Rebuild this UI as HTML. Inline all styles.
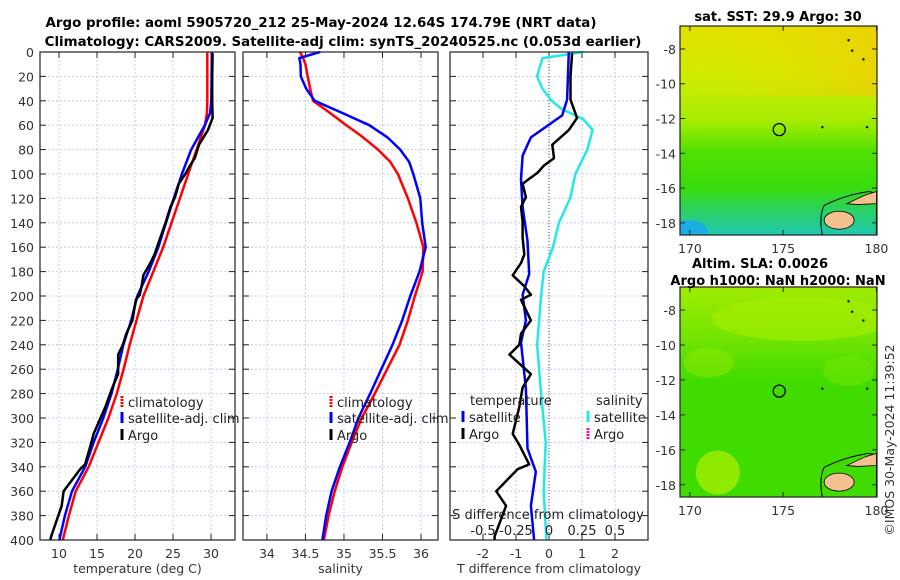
<!DOCTYPE html>
<html><head><meta charset="utf-8">
<style>
html,body{margin:0;padding:0;background:#fff;}
svg{display:block;font-family:"DejaVu Sans","Liberation Sans",sans-serif;}
.tk{font-size:12.5px;fill:#333;}
.tt{font-size:13px;font-weight:bold;fill:#000;}
</style></head>
<body>
<svg id="fig" width="900" height="580" viewBox="0 0 900 580">
<defs>
<linearGradient id="sstg" x1="0" y1="0" x2="0" y2="1">
<stop offset="0" stop-color="#e2e000"/><stop offset="0.22" stop-color="#d0ec00"/>
<stop offset="0.45" stop-color="#a8ec00"/><stop offset="0.6" stop-color="#50e000"/>
<stop offset="0.78" stop-color="#38dc10"/><stop offset="0.9" stop-color="#28d070"/><stop offset="1" stop-color="#20c8b0"/>
</linearGradient>
<linearGradient id="sstg2" x1="0" y1="0" x2="1" y2="0">
<stop offset="0" stop-color="#e6e200" stop-opacity="0"/><stop offset="1" stop-color="#f2cc00" stop-opacity="0.7"/>
</linearGradient>
<linearGradient id="slag" x1="0" y1="0" x2="0" y2="1">
<stop offset="0" stop-color="#a0ec00"/><stop offset="0.25" stop-color="#70e400"/>
<stop offset="0.45" stop-color="#40dc00"/><stop offset="1" stop-color="#40dc00"/>
</linearGradient>
<clipPath id="clipTop"><rect x="680" y="26" width="197" height="209"/></clipPath>
<clipPath id="clipBot"><rect x="680" y="287" width="197" height="210"/></clipPath>
</defs>
<g id="plots"></g>
<g id="maps"></g>
</svg>
<script>
// ---- data ----
const climDepth = [0,20,40,50,60,80,100,120,140,160,180,200,220,240,260,280,300,320,340,360,380,400];
const climTemp  = [29.5,29.5,29.5,29.45,29.2,28.1,27.0,25.9,24.8,23.7,22.4,21.1,20.2,19.3,18.5,17.6,16.5,15.2,13.9,12.2,11.3,10.5];
const satTDiffDepth = [0,39,52,70,85,104,127,155,182,199,220,238,276,325,344,372,400];
const satTDiff      = [0.6,0.55,0.4,-0.55,-0.8,-0.85,-0.8,-0.65,-0.6,-0.8,-0.7,-0.85,-0.7,-0.65,-0.4,-0.55,-0.45];
const argoDepth = [1,20,39,54,64,76,87,93,99,108,119,127,139,152,166,173,183,192,199,203,220,231,240,248,264,275,291,313,322,338,342,360,372,397,400];
const argoTDiff = [0.7,0.65,0.65,0.85,0.6,0.1,0.15,-0.15,-0.35,-0.8,-0.7,-0.85,-0.8,-0.8,-0.75,-0.85,-1.1,-0.75,-0.55,-0.85,-0.55,-0.85,-0.9,-1.2,-0.55,-0.8,-0.9,-1.1,-0.9,-0.6,-0.95,-1.6,-1.3,-1.65,-1.65];
const climSDepth = [0,5,10,20,30,40,50,60,70,80,90,100,120,140,160,180,200,220,240,260,280,300,320,340,360,380,400];
const climSal    = [34.43,34.47,34.5,34.53,34.56,34.6,34.82,35.03,35.25,35.44,35.6,35.7,35.83,35.94,36.03,36.02,35.92,35.83,35.72,35.56,35.4,35.23,35.1,34.98,34.88,34.8,34.74];
const satSDiffDepth = [0,5,20,30,40,47,55,64,80,100,120,140,160,180,200,240,280,320,360,400];
const satSDiff      = [0.26,-0.05,-0.09,-0.05,0.02,0.1,0.26,0.33,0.29,0.2,0.16,0.075,0.03,-0.04,-0.06,-0.09,-0.06,-0.025,-0.04,-0.02];
const depthTicks = [0,20,40,60,80,100,120,140,160,180,200,220,240,260,280,300,320,340,360,380,400];
const tTicks = [10,15,20,25,30];
const sTicks = [34,34.5,35,35.5,36];
const dTicks = [-2,-1,0,1,2];
const sdTicks = [-0.5,-0.25,0,0.25,0.5];
const sdTickLabels = ["-0.5","-0.25","0","0.25","0.5"];

const NS="http://www.w3.org/2000/svg";
function mk(tag,attrs,parent,text){const e=document.createElementNS(NS,tag);for(const k in attrs)e.setAttribute(k,attrs[k]);if(text!==undefined)e.textContent=text;parent.appendChild(e);return e;}
function interp(ds,vs,d){if(d<=ds[0])return vs[0];for(let i=1;i<ds.length;i++){if(d<=ds[i]){const f=(d-ds[i-1])/(ds[i]-ds[i-1]);return vs[i-1]+f*(vs[i]-vs[i-1]);}}return vs[vs.length-1];}

const Y0=52,Y1=540;
const y=d=>Y0+(d/400)*(Y1-Y0);
const P1={x0:40,x1:235,v0:7.5,v1:33.15};
const P2={x0:243,x1:438,v0:33.69,v1:36.22};
const P3={x0:450,x1:648,v0:-3,v1:3};
const sx=(P,v)=>P.x0+(v-P.v0)/(P.v1-P.v0)*(P.x1-P.x0);

const g=document.getElementById('plots');

function panel(P,ticks,labels,name,xlabel){
  const pg=mk('g',{},g);
  
  
  ticks.forEach(t=>{mk('line',{x1:sx(P,t),x2:sx(P,t),y1:Y0,y2:Y1,stroke:'#b8c4e8','stroke-width':0.8,'stroke-dasharray':'2,2'},pg);});
  depthTicks.forEach(d=>{mk('line',{x1:P.x0,x2:P.x1,y1:y(d),y2:y(d),stroke:'#b8c4e8','stroke-width':0.8,'stroke-dasharray':'2,2'},pg);
    mk('line',{x1:P.x0,x2:P.x0+6,y1:y(d),y2:y(d),stroke:'#222','stroke-width':1},pg);
    mk('line',{x1:P.x1-6,x2:P.x1,y1:y(d),y2:y(d),stroke:'#222','stroke-width':1},pg);});
  ticks.forEach((t,i)=>{const X=sx(P,t);
    mk('line',{x1:X,x2:X,y1:Y1,y2:Y1-6,stroke:'#222'},pg);
    mk('line',{x1:X,x2:X,y1:Y0,y2:Y0+6,stroke:'#222'},pg);
    const tl=mk('text',{x:X,y:558,'text-anchor':'middle',class:'tk'},pg,labels[i]);
    
    });
  const xl=mk('text',{x:(P.x0+P.x1)/2,y:573,'text-anchor':'middle',class:'tk'},pg,xlabel);
  
  
  return pg;
}
function line(pg,pts,color,w,name){
  const p=mk('polyline',{points:pts.map(q=>q[0].toFixed(1)+','+q[1].toFixed(1)).join(' '),fill:'none',stroke:color,'stroke-width':w,'stroke-linejoin':'round'},pg);
  
  
}
function frame(P){mk('rect',{x:P.x0,y:Y0,width:P.x1-P.x0,height:Y1-Y0,fill:'none',stroke:'#222','stroke-width':1.2},g);}
function legend(x,yy,color,label,dash){
  const lg=mk('g',{},g);
  
  
  mk('line',{x1:x,x2:x,y1:yy-11,y2:yy,stroke:color,'stroke-width':3,'stroke-dasharray':dash||'none'},lg);
  mk('text',{x:x+6,y:yy,class:'tk',style:'font-size:13px;fill:#222'},lg,label);
}

depthTicks.forEach(d=>{const t=mk('text',{x:34,y:y(d)+5,'text-anchor':'end',class:'tk'},g,String(d));
  
  });

const p1=panel(P1,tTicks,tTicks.map(String),'temperature-panel','temperature (deg C)');
line(p1,climDepth.map((d,i)=>[sx(P1,climTemp[i]),y(d)]),'#ff0000',2.5,'climatology-temperature-line');
line(p1,climDepth.map(d=>[sx(P1,interp(climDepth,climTemp,d)+interp(satTDiffDepth,satTDiff,d)),y(d)]),'#0000ff',2.5,'satellite-temperature-line');
line(p1,argoDepth.map((d,i)=>[sx(P1,interp(climDepth,climTemp,d)+argoTDiff[i]),y(d)]),'#000',2.5,'argo-temperature-line');
frame(P1);
legend(122,407,'#ff0000','climatology','2,1');legend(122,423,'#0000ff','satellite-adj. clim');legend(122,440,'#000','Argo');

const p2=panel(P2,sTicks,sTicks.map(String),'salinity-panel','salinity');
line(p2,climSDepth.map((d,i)=>[sx(P2,climSal[i]),y(d)]),'#ff0000',2.5,'climatology-salinity-line');
line(p2,climSDepth.map((d,i)=>[sx(P2,climSal[i]+interp(satSDiffDepth,satSDiff,d)),y(d)]),'#0000ff',2.5,'satellite-salinity-line');
frame(P2);
legend(331,407,'#ff0000','climatology','2,1');legend(331,423,'#0000ff','satellite-adj. clim');legend(331,440,'#000','Argo');

const p3=panel(P3,dTicks,dTicks.map(String),'difference-panel','T difference from climatology');
mk('line',{x1:sx(P3,0),x2:sx(P3,0),y1:Y0,y2:Y1,stroke:'#555','stroke-width':1,'stroke-dasharray':'1,2'},p3);
line(p3,satSDiffDepth.map((d,i)=>[sx(P3,satSDiff[i]*4),y(d)]),'#22e8e8',2.5,'satellite-salinity-diff-line');
line(p3,satTDiffDepth.map((d,i)=>[sx(P3,satTDiff[i]),y(d)]),'#0000ee',2.5,'satellite-temperature-diff-line');
line(p3,argoDepth.map((d,i)=>[sx(P3,argoTDiff[i]),y(d)]),'#000',2.5,'argo-temperature-diff-line');
frame(P3);
mk('text',{x:470,y:405,class:'tk',style:'font-size:13px;fill:#222'},g,'temperature');
legend(463,422,'#0000ee','satellite');legend(463,439,'#000','Argo');
mk('text',{x:596,y:405,class:'tk',style:'font-size:13px;fill:#222'},g,'salinity');
legend(588,422,'#22e8e8','satellite');legend(588,439,'#ff00cc','Argo','2,1');
const sdl=mk('text',{x:548,y:519,'text-anchor':'middle',class:'tk',style:'font-size:13px;fill:#222'},g,'S difference from climatology');


sdTicks.forEach((t,i)=>{const tl=mk('text',{x:sx(P3,t*4),y:535,'text-anchor':'middle',class:'tk',style:'font-size:13px;fill:#222'},g,sdTickLabels[i]);
  
  });

const t1=mk('text',{x:321,y:27,'text-anchor':'middle',class:'tt',style:'font-size:13.4px'},g,'Argo profile: aoml 5905720_212 25-May-2024 12.64S 174.79E (NRT data)');


const t2=mk('text',{x:343,y:46,'text-anchor':'middle',class:'tt',style:'font-size:13.4px'},g,'Climatology: CARS2009. Satellite-adj clim: synTS_20240525.nc (0.053d earlier)');



// ---- maps ----
const mapLats=[-8,-10,-12,-14,-16,-18];
const mapLons=[170,175,180];
const mg=document.getElementById('maps');
function map(top,bottom,fill,name,clip,extra){
  const M={x0:680,x1:877,y0:top,y1:bottom,lon0:169.47,lon1:180.03,lat0:-6.68,lat1:-18.7};
  const mx=v=>M.x0+(v-M.lon0)/(M.lon1-M.lon0)*(M.x1-M.x0);
  const my=v=>M.y0+(v-M.lat0)/(M.lat1-M.lat0)*(M.y1-M.y0);
  const gg=mk('g',{},mg);
  
  
  const cg=mk('g',{'clip-path':'url(#'+clip+')'},gg);
  mk('rect',{x:M.x0,y:M.y0,width:M.x1-M.x0,height:M.y1-M.y0,fill:fill},cg);
  extra(cg,M,mx,my);
  mk('path',{d:`M${mx(177.2)},${my(-17.0)} Q${mx(178.3)},${my(-16.4)} ${mx(179.6)},${my(-16.2)} L${mx(180)},${my(-16.3)} L${mx(180)},${my(-18.7)} L${mx(177.1)},${my(-18.7)} Q${mx(176.9)},${my(-17.6)} ${mx(177.2)},${my(-17.0)} Z`,fill:'none',stroke:'#000','stroke-width':1},cg);
  mk('ellipse',{cx:mx(178.0),cy:my(-17.85),rx:15,ry:9,fill:'#f5c090',stroke:'#000','stroke-width':0.8},cg);
  mk('path',{d:`M${mx(178.4)},${my(-16.9)} L${mx(179.4)},${my(-16.4)} L${mx(180)},${my(-16.2)} L${mx(180)},${my(-16.9)} L${mx(179)},${my(-16.95)} Z`,fill:'#f5c090',stroke:'#000','stroke-width':0.8},cg);
  [[178.7,-8.1],[179.3,-8.6],[177.1,-12.5],[179.5,-12.5],[178.5,-7.5]].forEach(p=>mk('circle',{cx:mx(p[0]),cy:my(p[1]),r:1.2,fill:'#000'},cg));
  const c=mk('circle',{cx:mx(174.79),cy:my(-12.64),r:6,fill:'none',stroke:'#000','stroke-width':1.3},gg);
  
  
  mk('rect',{x:M.x0,y:M.y0,width:M.x1-M.x0,height:M.y1-M.y0,fill:'none',stroke:'#222','stroke-width':1.2},gg);
  mapLats.forEach(l=>{mk('line',{x1:M.x0,x2:M.x0+5,y1:my(l),y2:my(l),stroke:'#222'},gg);mk('line',{x1:M.x1-5,x2:M.x1,y1:my(l),y2:my(l),stroke:'#222'},gg);
    mk('text',{x:676,y:my(l)+5,'text-anchor':'end',class:'tk'},gg,String(l));});
  mapLons.forEach(l=>{mk('line',{x1:mx(l),x2:mx(l),y1:M.y1,y2:M.y1-5,stroke:'#222'},gg);mk('line',{x1:mx(l),x2:mx(l),y1:M.y0,y2:M.y0+5,stroke:'#222'},gg);
    mk('text',{x:mx(l),y:M.y1+18,'text-anchor':'middle',class:'tk'},gg,String(l));});
}
map(26,235,'url(#sstg)','sst-map','clipTop',(gg,M,mx,my)=>{
  mk('rect',{x:M.x0,y:M.y0,width:M.x1-M.x0,height:70,fill:'url(#sstg2)'},gg);
  mk('ellipse',{cx:M.x0+8,cy:M.y1-3,rx:20,ry:12,fill:'#1aa8f0',opacity:0.85},gg);
});
map(287,497,'url(#slag)','sla-map','clipBot',(gg,M,mx,my)=>{
  mk('ellipse',{cx:mx(176),cy:my(-8.5),rx:90,ry:22,fill:'#a8ee00',opacity:0.6},gg);
  mk('ellipse',{cx:mx(171),cy:my(-11),rx:25,ry:15,fill:'#90ea00',opacity:0.5},gg);
  mk('ellipse',{cx:mx(171.5),cy:my(-17.3),rx:22,ry:22,fill:'#b0f000',opacity:0.7},gg);
  mk('ellipse',{cx:mx(178.5),cy:my(-11.5),rx:25,ry:15,fill:'#78e600',opacity:0.5},gg);
});
const mt=[['sat. SST: 29.9 Argo: 30',778,21,'sst-map-title'],['Altim. SLA: 0.0026',760,268,'sla-map-title'],['Argo h1000: NaN h2000: NaN',778,285,'argo-height-title']];
mt.forEach(m=>{const t=mk('text',{x:m[1],y:m[2],'text-anchor':'middle',class:'tt'},mg,m[0]);
  
  });
const cr=mk('text',{x:0,y:0,transform:'translate(894,440) rotate(-90)','text-anchor':'middle',class:'tk'},mg,'©IMOS 30-May-2024 11:39:52');


</script>
</body></html>
